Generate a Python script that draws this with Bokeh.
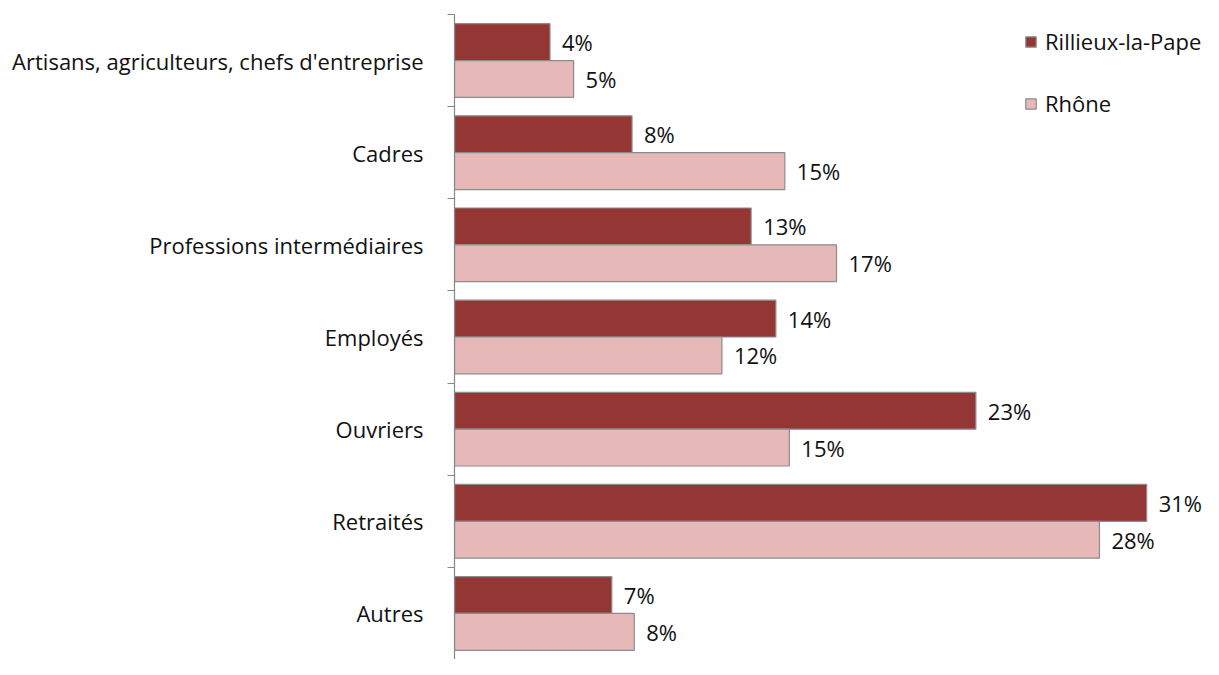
from bokeh.plotting import figure
from bokeh.models import ColumnDataSource, Range1d, FixedTicker, Legend, LegendItem
from bokeh.core.properties import value
from bokeh.embed import file_html
from bokeh.resources import INLINE

categories = ["Artisans, agriculteurs, chefs d'entreprise", "Cadres", "Professions intermédiaires",
              "Employés", "Ouvriers", "Retraités", "Autres"]
rillieux = [4.25, 7.9, 13.2, 14.3, 23.2, 30.8, 7.0]
rhone = [5.3, 14.7, 17.0, 11.9, 14.9, 28.7, 8.0]
rillieux_labels = ["4%", "8%", "13%", "14%", "23%", "31%", "7%"]
rhone_labels = ["5%", "15%", "17%", "12%", "15%", "28%", "8%"]
series_names = ["Rillieux-la-Pape", "Rhône"]

DARK = "#943634"
LIGHT = "#E6B9B8"
EDGE = "#8C8C8C"
FONT = "Open Sans"
FS = "22px"
n = len(categories)
centers = [n - i - 0.5 for i in range(n)]

src_a = ColumnDataSource(dict(y=[c + 0.2 for c in centers], v=rillieux, lab=rillieux_labels))
src_b = ColumnDataSource(dict(y=[c - 0.2 for c in centers], v=rhone, lab=rhone_labels))

p = figure(width=1203, height=659, output_backend="svg", toolbar_location=None,
           x_range=Range1d(0, 33.33), y_range=Range1d(0, n),
           min_border_left=454, min_border_right=0, min_border_top=14, min_border_bottom=0)
p.outline_line_color = None
p.xgrid.visible = False
p.ygrid.visible = False
p.xaxis.visible = False

ra = p.hbar(y="y", right="v", left=0, height=0.4, source=src_a, fill_color=DARK, line_color=EDGE, line_width=1.2)
rb = p.hbar(y="y", right="v", left=0, height=0.4, source=src_b, fill_color=LIGHT, line_color=EDGE, line_width=1.2)

for src in (src_a, src_b):
    p.text(x="v", y="y", text="lab", source=src, x_offset=12, text_baseline="middle", text_align="left",
           text_font=value(FONT), text_font_size=FS, text_color="#111111")

ax = p.yaxis[0]
ax.ticker = FixedTicker(ticks=centers, minor_ticks=list(range(n + 1)))
ax.major_label_overrides = {c: categories[i] for i, c in enumerate(centers)}
ax.major_tick_line_color = None
ax.major_tick_out = 0
ax.major_tick_in = 0
ax.minor_tick_out = 7
ax.minor_tick_in = 0
ax.minor_tick_line_color = "#868686"
ax.axis_line_color = "#868686"
ax.axis_line_width = 1.2
ax.major_label_standoff = 24
ax.major_label_text_font = FONT
ax.major_label_text_font_size = FS
ax.major_label_text_color = "#111111"

legend = Legend(items=[LegendItem(label=series_names[0], renderers=[ra]),
                       LegendItem(label=series_names[1], renderers=[rb])],
                location=(570, 541), orientation="vertical")
legend.border_line_color = None
legend.background_fill_alpha = 0
legend.padding = 0
legend.margin = 0
legend.spacing = 32
legend.glyph_width = 13
legend.glyph_height = 13
legend.label_standoff = 8
legend.label_text_font = FONT
legend.label_text_font_size = FS
legend.label_text_color = "#111111"
legend.label_height = 26
p.add_layout(legend)

open("out.html", "w").write(file_html(p, INLINE))
